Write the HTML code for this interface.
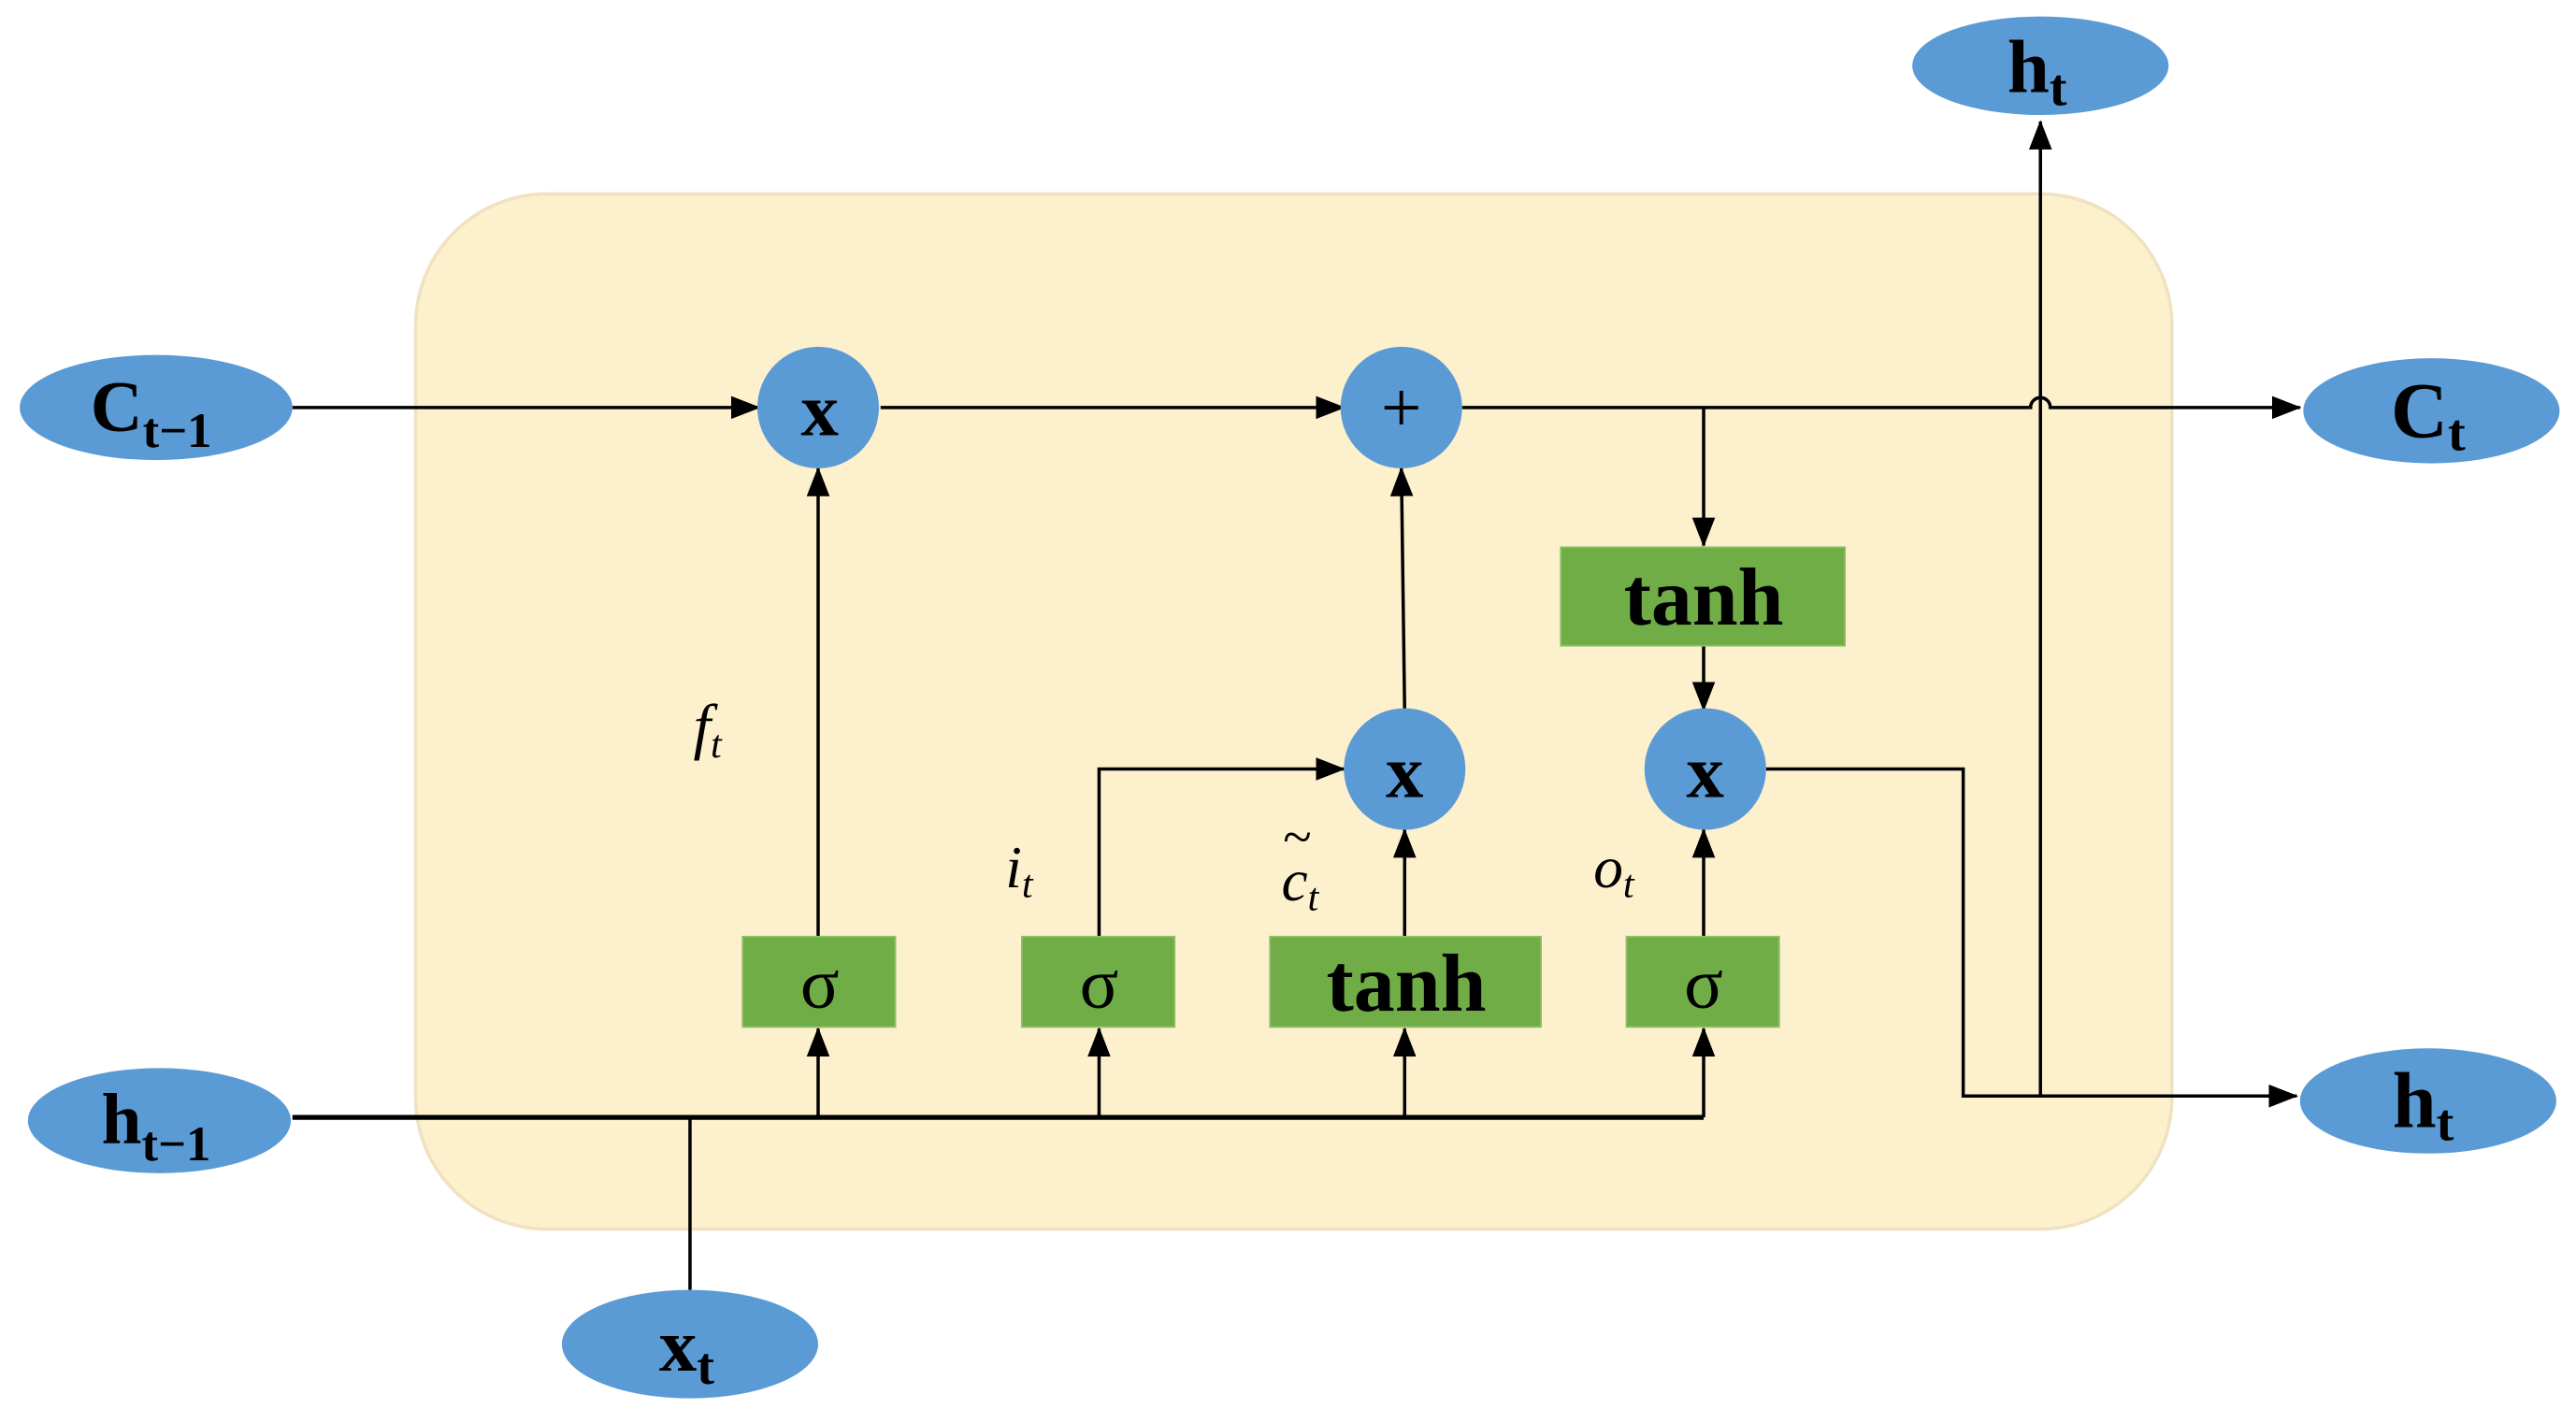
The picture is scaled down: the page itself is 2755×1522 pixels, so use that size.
<!DOCTYPE html>
<html><head><meta charset="utf-8"><style>
html,body{margin:0;padding:0;background:#fff;}
svg{display:block;}
text{font-family:"Liberation Serif",serif;}
</style></head><body>
<svg width="2755" height="1522" viewBox="0 0 1568 866" preserveAspectRatio="none" xmlns="http://www.w3.org/2000/svg">
<defs>
<marker id="a" markerWidth="10" markerHeight="10" refX="9" refY="5" orient="auto" markerUnits="userSpaceOnUse" viewBox="0 0 10 10"><path d="M0,0 L10,5 L0,10 z" fill="#000"/></marker>
<marker id="b" markerWidth="18" markerHeight="14" refX="17" refY="7" orient="auto" markerUnits="userSpaceOnUse" viewBox="0 0 18 14"><path d="M0,0 L18,7 L0,14 z" fill="#000"/></marker>
</defs>
<rect x="253" y="118" width="1069" height="630" rx="80" fill="#fdf0cd" stroke="#f0e2c0" stroke-width="2"/>
<g stroke="#000" stroke-width="2" fill="none">
<line x1="178" y1="248" x2="462" y2="248" marker-end="url(#b)"/>
<line x1="536" y1="248" x2="818" y2="248" marker-end="url(#b)"/>
<path d="M890 248 H1236 A6 6 0 0 1 1248 248 H1400" marker-end="url(#b)"/>
<line x1="178" y1="680" x2="1037" y2="680" stroke-width="3"/>
<line x1="420" y1="785" x2="420" y2="680"/>
<line x1="498" y1="570" x2="498" y2="285" marker-end="url(#b)"/>
<line x1="498" y1="680" x2="498" y2="626" marker-end="url(#b)"/>
<path d="M669 570 V468 H818" marker-end="url(#b)"/>
<line x1="669" y1="680" x2="669" y2="626" marker-end="url(#b)"/>
<line x1="855" y1="570" x2="855" y2="505" marker-end="url(#b)"/>
<line x1="855" y1="680" x2="855" y2="626" marker-end="url(#b)"/>
<line x1="855" y1="432" x2="853" y2="285" marker-end="url(#b)"/>
<line x1="1037" y1="248" x2="1037" y2="332" marker-end="url(#b)"/>
<line x1="1037" y1="393" x2="1037" y2="432" marker-end="url(#b)"/>
<line x1="1037" y1="570" x2="1037" y2="505" marker-end="url(#b)"/>
<line x1="1037" y1="680" x2="1037" y2="626" marker-end="url(#b)"/>
<path d="M1075 468 H1195 V667 H1398" marker-end="url(#b)"/>
<line x1="1242" y1="667" x2="1242" y2="74" marker-end="url(#b)"/>
</g>
<g fill="#5b9bd5">
<ellipse cx="95" cy="248" rx="83" ry="32"/>
<ellipse cx="97" cy="682" rx="80" ry="32"/>
<ellipse cx="420" cy="818" rx="78" ry="33"/>
<ellipse cx="1242" cy="40" rx="78" ry="30"/>
<ellipse cx="1480" cy="250" rx="78" ry="32"/>
<ellipse cx="1478" cy="670" rx="78" ry="32"/>
<ellipse cx="498" cy="248" rx="37" ry="37"/>
<ellipse cx="853" cy="248" rx="37" ry="37"/>
<ellipse cx="855" cy="468" rx="37" ry="37"/>
<ellipse cx="1038" cy="468" rx="37" ry="37"/>
</g>
<g fill="#70ad47" stroke="#8fc06a" stroke-width="1">
<rect x="950" y="333" width="173" height="60"/>
<rect x="452" y="570" width="93" height="55"/>
<rect x="622" y="570" width="93" height="55"/>
<rect x="773" y="570" width="165" height="55"/>
<rect x="990" y="570" width="93" height="55"/>
</g>
<g font-weight="bold" fill="#000" text-anchor="middle">
<text x="92" y="262" font-size="44">C<tspan font-size="30" dy="10">t−1</tspan></text>
<text x="95" y="696" font-size="44">h<tspan font-size="30" dy="10">t−1</tspan></text>
<text x="418" y="834" font-size="46">x<tspan font-size="32" dy="8">t</tspan></text>
<text x="1240" y="56" font-size="46">h<tspan font-size="32" dy="8">t</tspan></text>
<text x="1478" y="266" font-size="48">C<tspan font-size="32" dy="8">t</tspan></text>
<text x="1475" y="686" font-size="48">h<tspan font-size="32" dy="8">t</tspan></text>
<text x="499" y="265" font-size="46">x</text>
<text x="855" y="485" font-size="46">x</text>
<text x="1038" y="485" font-size="46">x</text>
<text x="1037" y="380" font-size="50">tanh</text>
<text x="856" y="615" font-size="50">tanh</text>
</g>
<text x="853" y="263" font-size="44" text-anchor="middle" fill="#000">+</text>
<g font-size="44" text-anchor="middle" fill="#000">
<text x="499" y="613">σ</text>
<text x="669" y="613">σ</text>
<text x="1037" y="613">σ</text>
</g>
<g font-style="italic" fill="#000">
<text x="422" y="455" font-size="38">f<tspan font-size="24" dy="6">t</tspan></text>
<text x="612" y="540" font-size="36">i<tspan font-size="24" dy="6">t</tspan></text>
<text x="780" y="548" font-size="36">c<tspan font-size="24" dy="6">t</tspan></text>
<text x="781" y="520" font-size="32" font-style="normal">~</text>
<text x="970" y="540" font-size="36">o<tspan font-size="24" dy="6">t</tspan></text>
</g>
</svg>
</body></html>
